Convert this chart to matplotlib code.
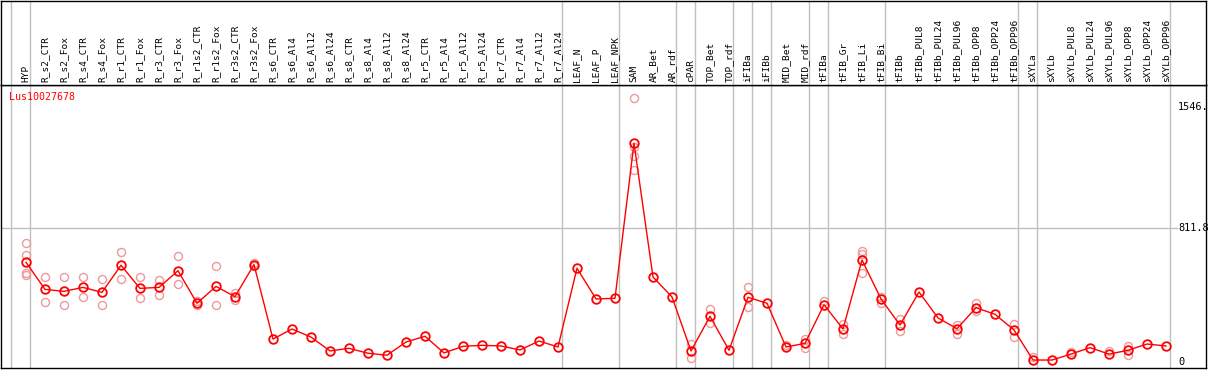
import matplotlib.pyplot as plt

# sample names, in plot order
samples = ['HYP', 'R_s2_CTR', 'R_s2_Fox', 'R_s4_CTR', 'R_s4_Fox', 'R_r1_CTR', 'R_r1_Fox',
           'R_r3_CTR', 'R_r3_Fox', 'R_r1s2_CTR', 'R_r1s2_Fox', 'R_r3s2_CTR', 'R_r3s2_Fox',
           'R_s6_CTR', 'R_s6_Al4', 'R_s6_Al12', 'R_s6_Al24', 'R_s8_CTR', 'R_s8_Al4',
           'R_s8_Al12', 'R_s8_Al24', 'R_r5_CTR', 'R_r5_Al4', 'R_r5_Al12', 'R_r5_Al24',
           'R_r7_CTR', 'R_r7_Al4', 'R_r7_Al12', 'R_r7_Al24', 'LEAF_N', 'LEAF_P', 'LEAF_NPK',
           'SAM', 'AR_Bet', 'AR_rdf', 'cPAR', 'TOP_Bet', 'TOP_rdf', 'iFIBa', 'iFIBb',
           'MID_Bet', 'MID_rdf', 'tFIBa', 'tFIB_Gr', 'tFIB_Li', 'tFIB_Bi', 'tFIBb',
           'tFIBb_PUL8', 'tFIBb_PUL24', 'tFIBb_PUL96', 'tFIBb_OPP8', 'tFIBb_OPP24',
           'tFIBb_OPP96', 'sXYLa', 'sXYLb', 'sXYLb_PUL8', 'sXYLb_PUL24', 'sXYLb_PUL96',
           'sXYLb_OPP8', 'sXYLb_OPP24', 'sXYLb_OPP96']

# mean expression per sample
means = [604, 440, 428, 452, 422, 586, 446, 452, 553, 356, 458, 396, 590,
         139, 200, 151, 67, 83, 53, 41, 121, 156, 55, 95, 101, 97, 73, 127, 91,
         568, 382, 386, 1325, 515, 394, 67, 277, 71, 392, 356, 91, 113, 347, 200,
         618, 382, 224, 424, 267, 202, 329, 289, 194, 12, 12, 48, 87, 48, 71, 109, 97]

# replicate values
reps = [[719, 646, 541, 525], [515, 363], [515, 343], [515, 392], [501, 343], [664, 501],
        [515, 386], [495, 406], [642, 471], [370, 345], [580, 343], [420, 374], [582, 598],
        [], [], [], [], [], [], [], [], [], [], [], [], [], [], [], [],
        [], [], [], [1599, 1304, 1248, 1161], [], [], [107, 22], [321, 234], [], [454, 331], [],
        [103], [141, 87], [372], [230, 168], [672, 654, 537], [396, 359], [259, 190],
        [], [], [226, 168], [356, 311], [], [230, 150], [32], [], [62], [], [69],
        [99, 41], [], []]

# group separators (sample index the line sits just before)
breaks = [0, 1, 29, 32, 35, 36, 38, 39, 40, 42, 43, 46, 53, 54, 61]

gene = 'Lus10027678'
W, H = 1209, 370
mono = 'DejaVu Sans Mono'
grey = '#c0c0c0'

fig = plt.figure(figsize=(W / 100, H / 100), dpi=100)
ax = fig.add_axes([1 / W, 2 / H, 1205 / W, 283 / H])
hx = fig.add_axes([1 / W, 285 / H, 1205 / W, 84.5 / H], sharex=ax)

x0 = (1 - 26) / 19
x1 = (1206 - 26) / 19
ax.set_xlim(x0, x1)
ax.set_ylim(-36.3, 1678)
hx.set_ylim(0, 1)

for a in (ax, hx):
    a.set_xticks([])
    a.set_yticks([])
    for s in a.spines.values():
        s.set_linewidth(1.0)
        s.set_color('black')
    for b in breaks:
        a.axvline(b - 0.79, color=grey, lw=1.0, zorder=0)

ax.axhline(811.8, xmin=0, xmax=1176 / 1205, color=grey, lw=1.0, zorder=0)

xs = list(range(len(samples)))
for i, r in enumerate(reps):
    if r:
        ax.plot([i] * len(r), r, 'o', ms=5.8, mfc='none', mec='#ec9a9a', mew=1.0, zorder=2)
ax.plot(xs, means, '-', color='red', lw=1.0, zorder=3)
ax.plot(xs, means, 'o', ms=6.2, mfc='none', mec='red', mew=1.3, zorder=4)

for i, name in enumerate(samples):
    hx.text(i, 0.035, name, rotation=90, ha='center', va='bottom',
            family=mono, fontsize=6.8)

for v, lab in [(1546, '1546.'), (811.8, '811.8'), (0, '0')]:
    ax.text((1178 - 26) / 19, v, lab, ha='left', va='center', family=mono, fontsize=7.4)

fig.text(9 / W, 1 - 97 / H, gene, color='red', ha='left', va='center',
         family=mono, fontsize=7.2)

fig.savefig('out.png', dpi=100)
